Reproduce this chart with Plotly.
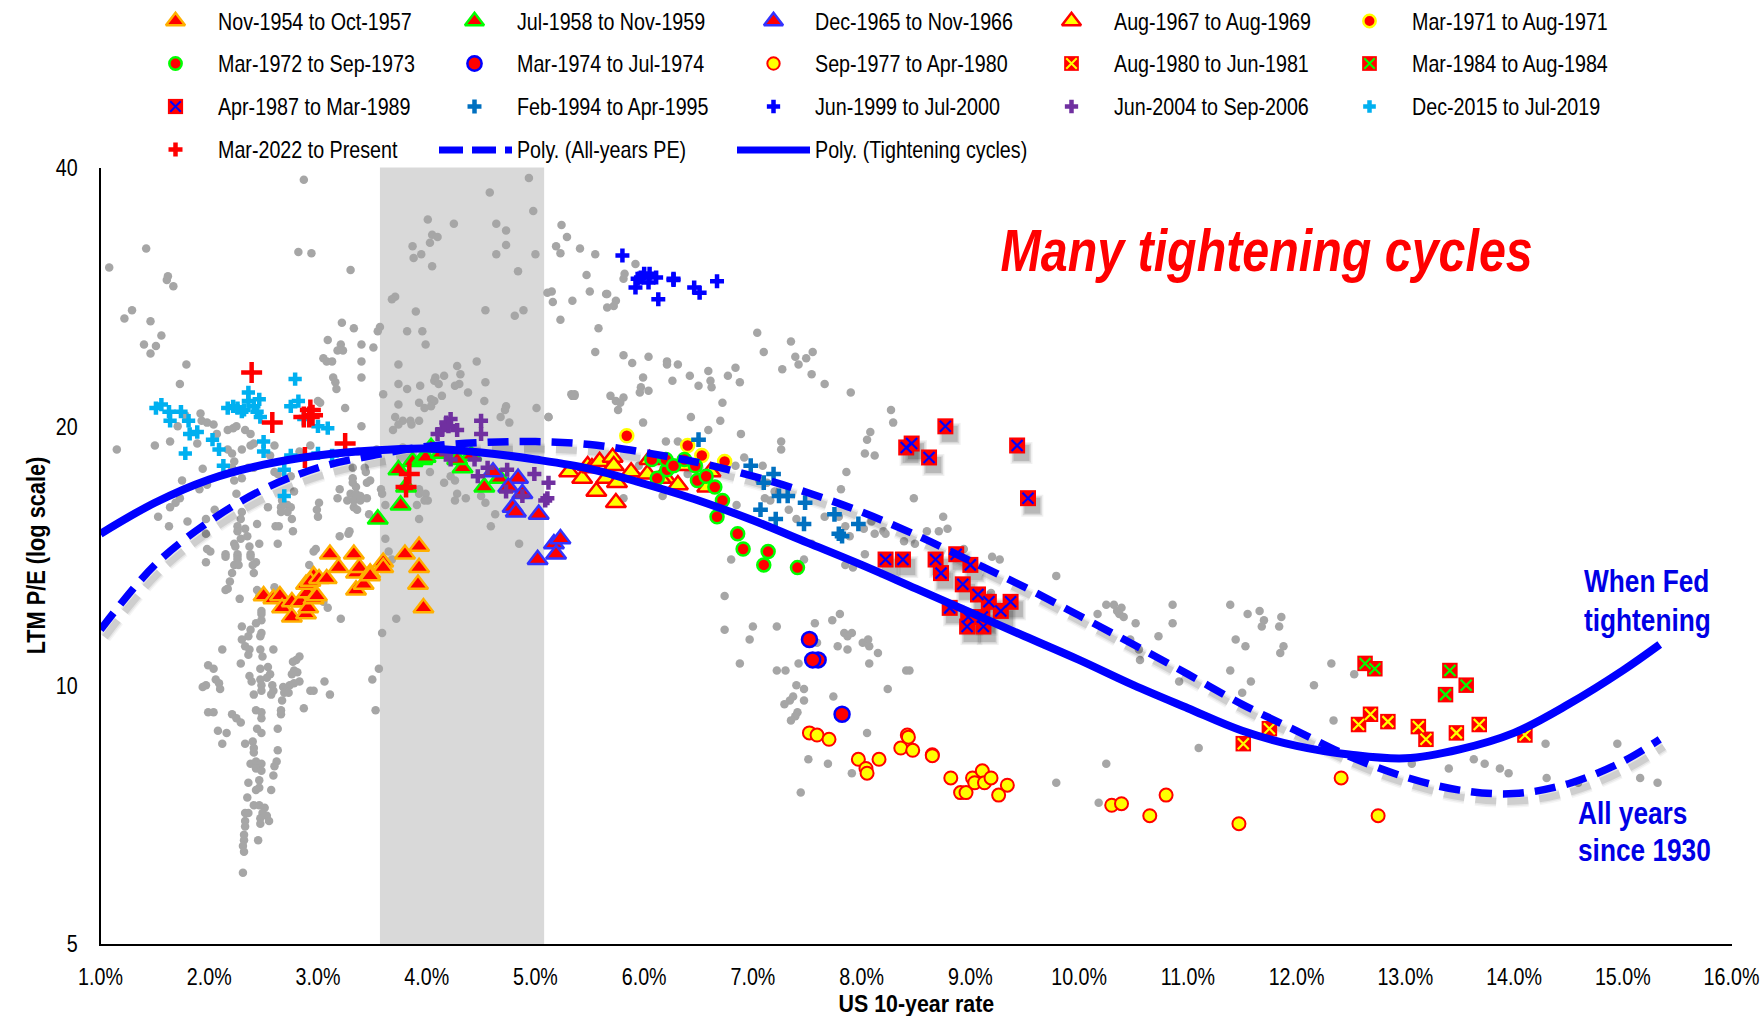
import plotly.graph_objects as go

# ---------- data (US 10-year rate %, LTM P/E) ----------
gray_points = [
(1.08,30.6),(1.42,32.2),(1.62,29.9),(1.61,29.6),(1.67,29.1),(1.29,27.3),(1.22,26.7),(1.46,26.5),(1.56,25.5),(1.40,24.9),(1.51,24.8),(1.46,24.3),(1.79,23.6),(1.73,22.4),
(2.87,38.7),(2.82,31.9),(2.94,31.8),(3.30,30.4),(3.22,26.4),(3.33,26.0),(3.09,25.2),(3.21,24.9),(3.18,24.5),(3.23,24.5),(3.40,24.9),(3.51,24.7),(3.05,24.0),(3.08,23.8),(3.13,23.8),(3.40,23.8),
(3.14,22.8),(3.16,22.5),(3.17,22.1),(3.40,22.8),(3.00,21.4),(3.02,21.3),(3.25,21.0),(3.40,20.0),(1.92,20.7),(1.78,20.6),(1.93,20.3),(1.98,20.2),(2.04,20.1),(1.71,20.0),
(2.07,19.6),(2.17,19.8),(2.22,19.9),(2.25,20.0),(2.33,19.8),(2.38,19.6),(1.64,19.2),(1.50,19.0),(1.15,18.8),(1.89,19.1),(2.17,18.8),(2.30,18.8),(2.21,18.6),(2.23,18.2),(2.38,19.0),(2.41,19.1),(2.56,18.5),(2.60,19.0),(2.93,19.0),(2.83,18.7),(2.72,18.3),(3.37,18.7),(3.54,18.8),(3.48,18.6),
(2.21,17.9),(2.36,17.9),(2.41,17.9),(1.94,17.85),(2.60,17.7),(2.63,17.6),(2.75,17.5),(2.23,17.3),(2.30,17.4),(1.75,17.3),(1.98,17.1),(1.91,16.9),(3.32,17.9),(3.43,17.9),(3.44,17.7),(3.32,17.4),(3.48,17.3),(3.45,17.2),(3.32,17.2),(3.35,17.0),(3.20,16.9),(2.78,16.8),
(2.25,16.7),(1.73,16.5),(1.69,16.3),(1.64,16.1),(2.67,16.4),(2.72,16.2),(2.66,16.1),(2.75,16.1),(2.54,16.1),(2.66,15.9),(2.72,15.9),(3.30,16.7),(3.35,16.7),(3.39,16.6),(3.45,16.5),(3.27,16.4),(3.18,16.5),(3.33,16.4),(3.39,16.4),(3.33,16.1),(3.36,16.0),(3.01,16.3),(2.99,16.0),(3.00,15.7),(3.47,15.8),(2.76,15.6),(2.05,16.0),(1.53,15.7),(1.97,15.6),(1.80,15.5),(1.63,15.3),(2.30,15.9),(2.29,15.6),(2.44,15.4),(2.61,15.3),(2.64,15.3),(2.77,15.1),(2.26,15.3),(2.26,15.1),(2.33,15.2),(1.97,15.0),
(2.29,14.8),(2.35,14.9),(2.23,14.6),(2.63,14.6),(2.46,14.6),(2.37,14.5),(2.24,14.5),(1.98,14.4),(2.01,14.3),(2.15,14.2),(2.98,14.4),(2.26,14.2),(2.38,14.2),(3.29,15.1),(3.28,15.0),(3.20,14.9),(3.62,14.8),(3.65,14.3),(3.68,14.0),
(4.94,38.9),(4.58,37.4),(4.98,35.6),(4.01,34.8),(4.25,34.4),(4.64,34.4),(4.73,33.8),(4.05,33.4),(4.10,33.2),(4.03,32.7),(3.87,32.4),(4.73,32.5),(4.64,31.7),(5.00,31.7),(3.95,31.7),(3.88,31.4),(4.05,30.7),(4.84,30.3),(3.71,28.3),(3.68,28.1),(4.54,27.3),(4.89,27.3),(4.81,26.9),(3.90,27.2),
(3.57,26.1),(3.55,25.8),(3.82,25.8),(3.96,25.8),(3.99,24.9),(3.74,23.6),(4.46,23.8),(4.28,23.5),(4.31,23.0),(4.16,22.9),(4.08,22.8),(4.07,22.6),(4.11,22.4),(4.54,22.5),(3.74,22.4),(3.94,22.3),(3.82,22.1),(4.30,22.4),(4.26,22.3),(4.38,21.9),(3.60,21.8),(4.14,21.7),(4.04,21.5),(4.07,21.4),(4.53,21.4),(3.93,21.3),(3.74,21.2),(4.04,21.1),(3.98,21.0),(4.73,21.1),(4.72,20.9),(5.01,21.0),
(3.71,20.5),(3.78,20.3),(3.85,20.3),(3.93,20.3),(3.86,20.1),(3.74,20.1),(3.69,19.8),(4.68,20.5),(4.76,20.2),(3.78,18.9),(4.03,17.7),(3.93,16.9),(3.93,16.7),(3.99,16.7),(4.01,16.4),(3.91,16.2),(3.98,16.4),(4.16,17.2),(4.22,17.5),(4.26,17.3),(4.28,16.7),(4.26,16.4),(4.36,16.5),(4.50,16.6),(4.54,16.3),(4.63,15.8),(3.93,15.6),(4.59,15.3),(4.85,14.6),(3.58,16.9),(3.59,16.7),(3.62,16.2),(5.12,20.5),(5.36,21.8),(5.33,21.8),
(5.24,34.3),(5.29,33.2),(5.19,32.4),(5.23,31.8),(5.41,32.2),(5.55,31.7),(5.92,30.9),(5.47,30.0),(5.82,30.1),(5.81,29.7),(5.11,28.6),(5.15,28.7),(5.16,27.9),(5.34,28.0),(5.50,28.7),(5.65,28.5),(5.66,28.5),(5.74,28.0),(5.72,27.6),(5.66,27.5),(5.23,26.6),(5.58,26.0),
(5.55,24.4),(5.81,24.2),(5.89,23.7),(6.04,24.1),(6.21,23.8),(6.21,23.6),(6.31,23.6),(6.42,22.9),(6.59,23.2),(6.77,22.9),(6.84,23.4),(7.04,25.7),(7.10,24.4),(7.35,25.1),(7.39,24.1),(7.49,24.0),(7.55,24.4),(7.42,23.6),(7.27,23.3),(7.54,23.0),(7.66,22.4),(7.90,21.9),
(5.99,22.8),(6.26,22.6),(6.50,22.3),(6.61,22.6),(6.62,22.2),(6.88,22.5),(5.97,22.2),(5.96,21.9),(6.04,22.0),(5.34,21.7),(5.36,21.7),(5.69,21.7),(5.81,21.6),(5.74,21.4),(5.78,21.3),(5.76,20.9),(6.72,21.3),(5.12,20.5),(5.99,20.2),(6.43,20.5),(6.70,20.3),(6.59,19.8),(6.89,19.6),(6.20,19.2),(6.31,19.2),(7.26,19.2),(7.26,18.8),(6.92,18.4),(6.84,18.0),(7.09,18.0),(8.27,20.9),(8.29,20.2),(8.08,19.7),(8.05,19.3),(8.03,18.6),(8.12,18.5),(7.86,17.7),(7.81,16.9),(6.17,16.6),(5.81,16.5),(5.95,18.0),(6.50,18.1),(6.40,17.6),(8.48,16.5),
(6.80,14.0),(6.74,12.7),(6.74,11.6),(7.00,11.7),(7.22,11.7),(6.97,11.3),(6.88,10.6),(7.80,12.1),(7.73,11.9),(7.57,11.8),(7.91,11.5),(7.84,11.5),(7.87,11.4),(7.78,11.1),(7.59,11.2),(7.87,11.0),(8.01,11.2),(8.06,11.3),(8.07,11.1),(8.15,10.9),(8.07,10.6),(7.42,10.6),(7.22,10.4),(7.30,10.4),(8.41,10.4),(8.44,10.4),(8.24,9.9),(7.40,10.0),(7.47,9.9),(7.74,9.7),(7.37,9.7),(7.34,9.6),(7.29,9.5),(7.47,9.6),(7.41,9.3),(7.39,9.2),(7.35,9.1),(8.05,8.8),(7.51,8.2),(7.69,8.1),(7.91,7.9),(7.44,7.5),(9.79,7.7),
(8.75,15.7),(8.60,15.1),(8.71,15.1),(8.79,15.2),(8.20,15.1),(8.12,15.0),(8.02,15.2),(8.09,15.5),(8.22,15.0),(8.39,14.7),(8.49,14.6),(8.03,14.2),(7.85,13.8),(7.92,13.7),(7.54,14.6),(7.47,14.0),(7.66,15.7),(7.79,15.7),(7.85,15.3),(7.89,14.9),(7.40,15.6),(7.33,16.0),(7.16,16.4),(7.11,16.5),(7.20,16.8),(7.13,17.2),(7.06,17.3),(6.85,16.2),(9.20,14.1),(9.27,14.0),(9.79,13.4),(9.19,12.8),(8.94,14.4),
(10.25,12.4),(10.32,12.4),(10.39,12.3),(10.35,12.2),(10.37,12.1),(10.41,12.0),(10.17,12.1),(10.86,12.4),(10.52,11.8),(10.86,11.8),(10.73,11.4),(10.47,11.3),(10.55,11.0),(10.56,10.7),(10.92,10.1),(11.39,12.4),(11.55,12.1),(11.66,12.2),(11.70,11.9),(11.68,11.7),(11.86,12.0),(11.84,11.7),(11.44,11.3),(11.53,11.1),(11.88,11.1),(11.85,10.9),(11.39,10.4),(11.58,10.1),
(11.50,9.8),(11.10,8.45),(10.25,8.1),(10.18,7.3),(12.32,10.6),(12.16,10.0),(12.53,10.3),(12.34,9.1),(13.06,8.1),(13.40,8.0),(13.63,8.2),(13.73,8.1),(13.87,8.0),(13.95,7.9),(14.29,8.55),(14.30,7.8),(14.95,8.55),(15.16,7.8),(15.32,7.7),(14.59,7.7),
(1.97,13.9),(2.15,14.1),(2.26,14.1),(2.26,14.0),(2.23,13.8),(2.27,13.8),(2.21,13.5),(2.19,13.2),(2.15,12.9),(2.17,12.95),(2.28,12.6),(2.38,14.1),(2.43,13.9),(2.40,13.8),(2.41,13.5),(2.44,12.9),(2.46,12.7),(2.60,13.0),(2.92,13.8),(2.96,14.3),
(2.48,12.2),(2.48,12.1),(2.48,11.9),(2.43,11.8),(2.30,11.7),(2.38,11.6),(2.48,11.5),(2.47,11.4),(2.36,11.4),(2.30,11.3),(2.33,11.1),(2.37,11.0),(2.47,11.0),(2.59,11.0),(2.12,11.0),(2.36,10.85),(2.49,10.8),(2.29,10.6),(2.83,10.8),(2.80,10.7),(2.77,10.65),(1.99,10.55),(2.04,10.45),(2.47,10.45),(2.54,10.5),(2.56,10.3),(2.53,10.2),(2.47,10.15),(2.37,10.25),(2.39,10.1),(2.06,10.15),(2.09,10.05),(2.78,10.4),(2.81,10.35),(2.76,10.3),(2.83,10.1),(2.78,10.05),(2.74,10.0),(3.06,10.1),(1.97,10.0),(1.94,9.95),(2.10,9.9),(2.48,10.0),(2.58,10.0),(2.68,9.95),(2.48,9.85),(2.59,9.85),(2.57,9.75),(2.41,9.75),(2.69,9.8),(2.73,9.8),(2.67,9.6),(2.93,9.85),(2.96,9.85),(3.11,9.75),
(2.87,9.4),(2.43,9.35),(2.48,9.3),(2.48,9.15),(1.99,9.3),(2.04,9.3),(2.21,9.25),(2.25,9.15),(2.29,9.05),(2.66,9.35),(2.66,9.25),(2.08,8.85),(2.16,8.8),(2.44,8.9),(2.48,8.8),(2.63,8.9),(2.12,8.55),(2.33,8.55),(2.40,8.6),(2.41,8.45),(2.41,8.35),(2.63,8.4),(2.38,8.1),(2.43,8.15),(2.48,8.1),(2.62,8.15),(2.60,8.05),(2.43,8.0),(2.48,7.95),(2.59,7.85),(2.36,7.7),(2.46,7.75),(2.46,7.6),(2.43,7.55),(2.57,7.55),(2.35,7.4),(2.41,7.25),(2.46,7.25),(2.51,7.2),(2.33,7.1),(2.36,7.1),(2.49,7.1),(2.53,7.05),(2.47,7.0),(2.55,6.95),(2.47,6.9),(2.33,6.95),(2.33,6.85),(2.32,6.7),(2.45,6.6),(2.32,6.6),(2.31,6.5),(2.32,6.4),(2.31,6.05),
(3.56,10.45),(3.50,10.15),(3.53,9.35),(3.59,11.5),(3.72,11.95),(3.21,11.95),(3.09,12.3),(3.05,12.5),
]

nov1954 = [(2.50,12.7),(2.59,12.6),(2.65,12.7),(2.67,12.3),(2.76,12.5),(2.76,12.0),(2.84,12.5),(2.89,12.1),(2.91,12.3),(2.90,12.8),(2.96,12.6),(2.99,12.7),(2.89,13.1),(2.96,13.4),(2.93,13.2),(3.01,13.3),(3.08,13.3),(3.11,14.2),(3.19,13.7),(3.33,14.2),(3.35,13.5),(3.38,13.7),(3.35,12.9),(3.42,13.1),(3.48,13.5),(3.48,13.4),(3.60,13.9),(3.60,13.7),(3.80,14.2),(3.93,14.5),(3.93,13.7),(3.92,13.1),(3.97,12.3)]
jul1958 = [(3.55,15.6),(3.76,16.2),(3.81,17.0),(3.74,17.8),(3.87,18.2),(3.96,18.3),(3.99,18.4),(4.13,18.6),(4.04,18.9),(4.33,17.9),(4.41,18.5),(4.53,17.0),(4.67,17.4),(4.28,18.3)]
dec1965 = [(4.61,17.7),(4.84,17.4),(4.75,17.0),(4.88,16.7),(4.79,16.1),(4.82,15.9),(5.03,15.8),(5.17,14.6),(5.23,14.8),(5.19,14.2),(5.02,14.0)]
aug1967 = [(5.31,17.7),(5.43,17.4),(5.48,18.0),(5.52,17.9),(5.59,18.2),(5.71,18.4),(5.72,18.0),(5.88,17.7),(5.65,17.4),(5.75,17.2),(5.56,16.8),(5.74,16.3),(6.03,17.6),(6.20,17.4),(6.31,17.1),(6.05,18.3),(6.15,17.4),(6.37,18.0),(6.58,17.0),(6.61,17.7)]
mar1971 = [(5.84,19.5),(6.40,19.0),(6.53,18.5),(6.74,18.2)]
mar1972 = [(6.07,18.3),(6.12,17.4),(6.21,17.8),(6.20,18.3),(6.27,18.0),(6.37,18.3),(6.47,18.0),(6.49,17.3),(6.57,17.5),(6.65,17.0),(6.72,16.4),(6.67,15.7),(6.86,15.0),(6.91,14.4),(7.14,14.3),(7.10,13.8),(7.41,13.7)]
mar1974 = [(7.60,10.7),(7.52,11.3),(7.55,10.7),(7.82,9.25)]
sep1977 = [(7.52,8.8),(7.59,8.75),(7.70,8.65),(7.97,8.2),(8.04,8.0),(8.05,7.9),(8.16,8.2),(8.42,8.75),(8.43,8.7),(8.36,8.45),(8.47,8.4),(8.65,8.3),(8.65,8.28),(8.82,7.8),(8.91,7.5),(8.96,7.5),(9.02,7.8),(9.04,7.7),(9.11,7.95),(9.13,7.7),(9.19,7.8),(9.34,7.65),(9.26,7.45),(10.30,7.25),(10.39,7.28),(10.65,7.05),(10.80,7.45),(11.47,6.9),(12.41,7.8),(12.75,7.05)]
aug1980 = [(11.51,8.55),(11.75,8.9),(12.57,9.0),(12.68,9.25),(12.84,9.07),(13.12,8.95),(13.19,8.65),(13.47,8.8),(13.68,9.0),(14.10,8.75)]
mar1984 = [(12.63,10.6),(12.72,10.45),(13.41,10.4),(13.56,10.0),(13.37,9.75)]
apr1987 = [(8.41,18.9),(8.46,19.1),(8.62,18.4),(8.77,20.0),(9.43,19.0),(9.53,16.5),(8.22,14.0),(8.38,14.0),(8.68,14.0),(8.73,13.5),(8.87,14.2),(9.00,13.8),(8.93,13.1),(9.07,12.75),(9.17,12.5),(9.28,12.2),(9.37,12.5),(8.81,12.3),(8.98,12.0),(8.97,11.7),(9.12,11.7),(9.11,12.0)]
feb1994 = [(6.50,19.3),(6.98,18.0),(7.19,17.6),(7.10,17.2),(7.24,16.6),(7.32,16.6),(7.48,16.3),(7.75,15.8),(7.07,16.0),(7.21,15.6),(7.47,15.4),(7.97,15.4),(7.79,15.0),(7.82,14.9)]
jun1999 = [(5.80,31.6),(5.97,29.8),(6.00,30.1),(6.05,30.1),(6.11,29.8),(6.04,29.4),(5.94,29.7),(5.92,29.0),(6.13,28.1),(6.27,29.7),(6.27,29.6),(6.46,29.0),(6.51,28.6),(6.67,29.5)]
jun2004 = [(4.22,20.4),(4.18,20.2),(4.14,19.8),(4.10,19.6),(4.20,20.0),(4.28,19.8),(4.50,20.3),(4.50,19.6),(4.18,18.6),(4.22,18.3),(4.44,18.3),(4.56,17.9),(4.47,17.5),(4.74,17.8),(4.73,16.8),(4.99,17.6),(5.12,17.2),(4.88,16.6),(5.11,16.5),(5.09,16.4)]
dec2015 = [(1.51,21.0),(1.56,21.2),(1.63,20.8),(1.74,20.8),(1.64,20.3),(1.81,20.3),(1.89,19.7),(1.82,19.6),(2.03,19.3),(2.09,18.8),(1.78,18.6),(2.13,18.0),(2.17,21.0),(2.22,21.1),(2.26,21.0),(2.32,20.9),(2.36,21.9),(2.36,21.4),(2.46,21.5),(2.41,21.1),(2.47,20.5),(2.50,19.2),(2.50,18.7),(2.75,21.1),(2.82,21.4),(2.79,22.7),(2.87,20.4),(3.00,20.0),(3.09,19.9),(2.75,18.5),(3.00,18.6),(3.13,18.5),(2.69,17.8),(2.69,16.6),(2.30,20.8),(2.44,20.8)]
mar2022 = [(2.39,23.1),(2.58,20.2),(2.92,20.5),(2.95,20.6),(2.87,20.5),(2.93,20.9),(2.88,18.4),(3.25,19.1),(3.84,17.6),(3.81,17.0)]

poly_tight = [(1.0,15.0),(1.5,16.3),(2.0,17.35),(2.5,18.05),(3.0,18.5),(3.5,18.75),(4.0,18.85),(4.5,18.65),(5.0,18.3),(5.5,17.85),(6.0,17.15),(6.5,16.4),(7.0,15.55),(7.5,14.65),(8.0,13.8),(8.5,12.95),(9.0,12.15),(9.5,11.4),(10.0,10.7),(10.5,10.0),(11.0,9.4),(11.5,8.85),(12.0,8.5),(12.5,8.3),(13.0,8.22),(13.5,8.42),(14.0,8.8),(14.5,9.5),(15.0,10.4),(15.34,11.15)]
poly_all = [(1.0,11.6),(1.5,13.8),(2.0,15.5),(2.5,16.9),(3.0,17.9),(3.5,18.5),(4.0,18.95),(4.5,19.15),(5.0,19.2),(5.5,19.05),(6.0,18.65),(6.5,18.15),(7.0,17.5),(7.5,16.75),(8.0,15.9),(8.5,14.95),(9.0,13.95),(9.5,13.0),(10.0,12.05),(10.5,11.15),(11.0,10.3),(11.5,9.5),(12.0,8.85),(12.5,8.25),(13.0,7.82),(13.5,7.55),(14.0,7.48),(14.5,7.68),(15.0,8.15),(15.34,8.65)]

x_tick_vals = list(range(1, 17))
x_tick_text = [f"{v}.0%" for v in x_tick_vals]
y_tick_vals = [5, 10, 20, 40]
band_low, band_high = 3.57, 5.08

# ---------- styles ----------
W, H = 1763, 1016
L, R, T, B = 100.5, 1731.5, 167.5, 944
FONT = "Liberation Sans, Arial, sans-serif"
BLUE = "#0000FF"
RED = "#FF0000"
YEL = "#FFFF00"
LIME = "#00FF00"

def xs(p): return [a for a, _ in p]
def ys(p): return [b for _, b in p]

series = [
    ("Nov-1954 to Oct-1957", nov1954, dict(symbol="triangle-up", size=17.5, color=RED, line=dict(color="#FFB000", width=2.5)), None),
    ("Jul-1958 to Nov-1959", jul1958, dict(symbol="triangle-up", size=17.5, color=RED, line=dict(color=LIME, width=2.5)), None),
    ("Dec-1965 to Nov-1966", dec1965, dict(symbol="triangle-up", size=17.5, color=RED, line=dict(color="#3333FF", width=2.5)), None),
    ("Aug-1967 to Aug-1969", aug1967, dict(symbol="triangle-up", size=17.5, color=YEL, line=dict(color=RED, width=2.5)), None),
    ("Mar-1971 to Aug-1971", mar1971, dict(symbol="circle", size=13, color=RED, line=dict(color=YEL, width=2.5)), None),
    ("Mar-1972 to Sep-1973", mar1972, dict(symbol="circle", size=13, color=RED, line=dict(color=LIME, width=2.5)), None),
    ("Mar-1974 to Jul-1974", mar1974, dict(symbol="circle", size=15, color=RED, line=dict(color=BLUE, width=2.5)), None),
    ("Sep-1977 to Apr-1980", sep1977, dict(symbol="circle", size=13, color=YEL, line=dict(color=RED, width=2)), None),
    ("Aug-1980 to Jun-1981", aug1980, dict(symbol="square", size=15.5, color=RED, line=dict(width=0)), YEL),
    ("Mar-1984 to Aug-1984", mar1984, dict(symbol="square", size=15.5, color=RED, line=dict(width=0)), LIME),
    ("Apr-1987 to Mar-1989", apr1987, dict(symbol="square", size=16, color=RED, line=dict(width=0)), BLUE),
    ("Feb-1994 to Apr-1995", feb1994, dict(symbol="cross-thin", size=10.5, color="#0070C0", line=dict(color="#0070C0", width=4.5)), None),
    ("Jun-1999 to Jul-2000", jun1999, dict(symbol="cross-thin", size=10, color=BLUE, line=dict(color=BLUE, width=4.5)), None),
    ("Jun-2004 to Sep-2006", jun2004, dict(symbol="cross-thin", size=10, color="#7030A0", line=dict(color="#7030A0", width=4.5)), None),
    ("Dec-2015 to Jul-2019", dec2015, dict(symbol="cross-thin", size=9.5, color="#00B0F0", line=dict(color="#00B0F0", width=4.5)), None),
    ("Mar-2022 to Present", mar2022, dict(symbol="cross-thin", size=15, color=RED, line=dict(color=RED, width=4.5)), None),
]

fig = go.Figure()
fig.add_trace(go.Scatter(x=xs(gray_points), y=ys(gray_points), mode="markers", name="All years",
                         marker=dict(symbol="circle", size=8.5, color="#A6A6A6"), showlegend=False, cliponaxis=False))

# soft shadow of the dashed trend line and of the 1987 squares
SHX, SHY = 0.04, 0.98
for w, a in [(13, 0.04), (10, 0.06), (7, 0.10)]:
    fig.add_trace(go.Scatter(x=[v + SHX for v in xs(poly_all)], y=[v * SHY for v in ys(poly_all)], mode="lines",
                             line=dict(color=f"rgba(0,0,0,{a})", width=w, shape="spline", smoothing=1, dash="21px,11px"),
                             showlegend=False, hoverinfo="skip"))
for size, a in [(22, 0.06), (19, 0.1), (16, 0.14)]:
    fig.add_trace(go.Scatter(x=[v + SHX for v in xs(apr1987)], y=[v * SHY for v in ys(apr1987)], mode="markers",
                             marker=dict(symbol="square", size=size, color=f"rgba(0,0,0,{a})", line=dict(width=0)),
                             showlegend=False, hoverinfo="skip"))

for name, pts, mk, xcol in series:
    fig.add_trace(go.Scatter(x=xs(pts), y=ys(pts), mode="markers", name=name, marker=mk, showlegend=False))
    if xcol:
        fig.add_trace(go.Scatter(x=xs(pts), y=ys(pts), mode="markers", name=name,
                                 marker=dict(symbol="x-thin", size=11, line=dict(color=xcol, width=2.2)),
                                 showlegend=False, hoverinfo="skip"))

fig.add_trace(go.Scatter(x=xs(poly_all), y=ys(poly_all), mode="lines", name="Poly. (All-years PE)",
                         line=dict(color=BLUE, width=7.5, shape="spline", smoothing=1, dash="21px,11px"), showlegend=False))
fig.add_trace(go.Scatter(x=xs(poly_tight), y=ys(poly_tight), mode="lines", name="Poly. (Tightening cycles)",
                         line=dict(color=BLUE, width=8, shape="spline", smoothing=1), showlegend=False))

# ---------- hand-placed legend (5 columns x 4 rows) on an overlay axis in page units ----------
KEY_COLS = [175.5, 474.5, 773.5, 1071.5, 1369.5]
TXT_COLS = [215.5, 514.5, 812.5, 1111.5, 1409.5]
ROWS = [21, 63.5, 106.5, 149.5]
annotations = []
def label(text, xp, yp, size=24, color="#000000", anchor="left", bold=False, italic=False, angle=0):
    annotations.append(dict(text=text, x=xp, y=yp, xref="x2", yref="y2", xanchor=anchor, align=anchor,
                            yanchor="middle", showarrow=False, textangle=angle,
                            font=dict(family=FONT, size=size, color=color,
                                      style="italic" if italic else "normal", weight="bold" if bold else "normal")))
for i, (name, pts, mk, xcol) in enumerate(series):
    r, c = divmod(i, 5)
    m = dict(mk)
    m["size"] = 10 if name.startswith("Mar-2022") else mk["size"] * 0.95
    fig.add_trace(go.Scatter(x=[KEY_COLS[c]], y=[ROWS[r]], xaxis="x2", yaxis="y2", mode="markers", marker=m,
                             showlegend=False, hoverinfo="skip"))
    if xcol:
        fig.add_trace(go.Scatter(x=[KEY_COLS[c]], y=[ROWS[r]], xaxis="x2", yaxis="y2", mode="markers",
                                 marker=dict(symbol="x-thin", size=10.5, line=dict(color=xcol, width=2)),
                                 showlegend=False, hoverinfo="skip"))
    label(name, TXT_COLS[c], ROWS[r])
fig.add_trace(go.Scatter(x=[439, 512], y=[150, 150], xaxis="x2", yaxis="y2", mode="lines",
                         line=dict(color=BLUE, width=7, dash="24px,9px"), showlegend=False, hoverinfo="skip"))
fig.add_trace(go.Scatter(x=[737, 810], y=[150, 150], xaxis="x2", yaxis="y2", mode="lines",
                         line=dict(color=BLUE, width=7), showlegend=False, hoverinfo="skip"))
label("Poly. (All-years PE)", 514.5, 149.5)
label("Poly. (Tightening cycles)", 812.5, 149.5)

# ---------- call-outs ----------
label("Many tightening cycles", 1266, 251, 59, RED, "center", True, True)
label("When Fed", 1581.5, 581, 32, "#0000E6", bold=True)
label("tightening", 1581.5, 620, 32, "#0000E6", bold=True)
label("All years", 1575.5, 813, 32, "#0000E6", bold=True)
label("since 1930", 1575.5, 850, 32, "#0000E6", bold=True)
label("LTM P/E (log scale)", 36, 556, 26.5, "#000000", "center", True, angle=-90)
label("US 10-year rate", 916, 1003, 24, "#000000", "center", True)

fig.update_layout(
    width=W, height=H, margin=dict(l=0, r=0, t=0, b=0, autoexpand=False), plot_bgcolor="rgba(0,0,0,0)", paper_bgcolor="#FFFFFF",
    showlegend=False, font=dict(family=FONT, size=24, color="#000000"), annotations=annotations,
    xaxis=dict(domain=[L / W, R / W], range=[1, 16], tickvals=x_tick_vals, ticktext=x_tick_text, showgrid=False, zeroline=False,
               showline=True, linecolor="#000000", linewidth=2, ticks="", tickfont=dict(size=24), anchor="y", ticklabelstandoff=10,
               ticklabeloverflow="allow"),
    yaxis=dict(domain=[1 - B / H, 1 - T / H], type="log", range=[0.69897, 1.60206], tickvals=y_tick_vals, showgrid=False,
               zeroline=False, showline=True, linecolor="#000000", linewidth=2, ticks="", tickfont=dict(size=24), anchor="x", ticklabelstandoff=16,
               ticklabeloverflow="allow"),
    xaxis2=dict(domain=[0, 1], range=[0, W], visible=False, anchor="y2"),
    yaxis2=dict(domain=[0, 1], range=[H, 0], visible=False, anchor="x2"),
    shapes=[dict(type="rect", xref="x", yref="y domain", x0=band_low, x1=band_high, y0=0, y1=1,
                 fillcolor="#D9D9D9", line=dict(width=0), layer="below")],
)

# The reference text is an Arial-Narrow look; no narrow face is installed, so condense the real SVG text in place.
condense = """
document.body.style.margin='0';document.body.style.overflow='hidden';
document.querySelectorAll('.annotation-text, .xtick text, .ytick text').forEach(function(t){
  var w=t.getComputedTextLength();
  var k=(t.textContent==='US 10-year rate')?0.89:0.82;
  t.setAttribute('textLength',(w*k).toFixed(1));
  t.setAttribute('lengthAdjust','spacingAndGlyphs');
});
"""
fig.write_html("out.html", config={"displayModeBar": False}, post_script=condense)
